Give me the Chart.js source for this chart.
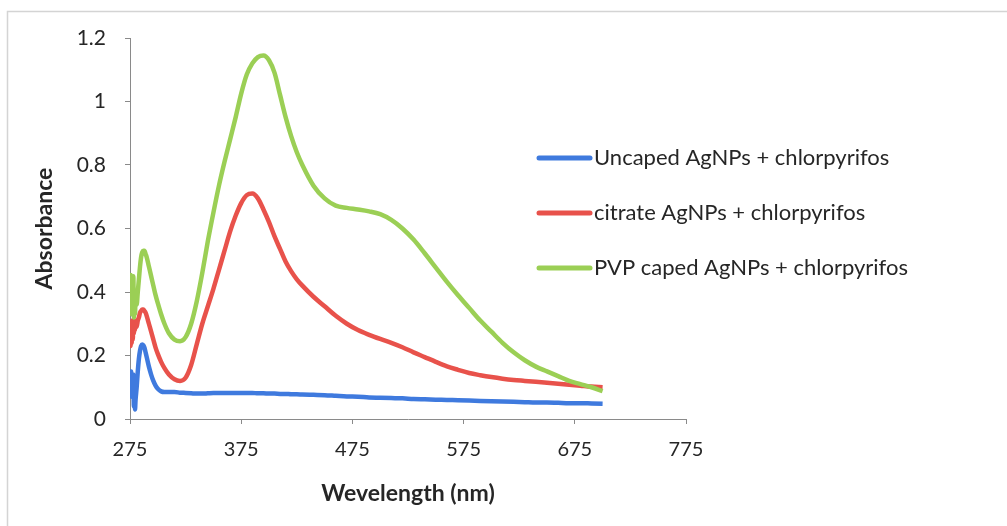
<!DOCTYPE html>
<html>
<head>
<meta charset="utf-8">
<script src="https://cdn.jsdelivr.net/npm/chart.js@4.4.1/dist/chart.umd.min.js"></script>
<style>
  html, body { margin: 0; padding: 0; background: #ffffff; }
  #wrap { width: 1007px; height: 526px; position: relative; }
</style>
</head>
<body>
<div id="wrap"><canvas id="c" width="1007" height="526"></canvas></div>
<script>
// ---- data ----
const seriesNames = [
  'Uncaped AgNPs + chlorpyrifos',
  'citrate AgNPs + chlorpyrifos',
  'PVP caped AgNPs + chlorpyrifos'
];
const wavelengths = [275, 275.5, 276, 276.5, 277, 277.5, 278, 278.5, 279, 279.5, 280, 281, 282, 283, 284, 285, 286, 287, 288, 289, 290, 292, 294, 296, 298, 300, 303, 306, 310, 315, 320, 325, 330, 335, 340, 345, 350, 355, 360, 365, 370, 375, 380, 385, 390, 395, 400, 405, 410, 415, 420, 425, 430, 440, 450, 460, 470, 480, 490, 500, 510, 520, 530, 540, 550, 560, 570, 580, 590, 600, 610, 620, 630, 640, 650, 660, 670, 680, 690, 700];
const uncaped = [0.14, 0.08, 0.15, 0.07, 0.13, 0.09, 0.14, 0.04, 0.05, 0.03, 0.06, 0.10, 0.15, 0.19, 0.215, 0.23, 0.235, 0.232, 0.225, 0.21, 0.195, 0.165, 0.14, 0.12, 0.105, 0.095, 0.087, 0.085, 0.085, 0.085, 0.083, 0.082, 0.081, 0.080, 0.080, 0.081, 0.082, 0.082, 0.082, 0.082, 0.082, 0.082, 0.082, 0.082, 0.081, 0.081, 0.080, 0.080, 0.079, 0.079, 0.078, 0.078, 0.077, 0.076, 0.075, 0.073, 0.071, 0.070, 0.068, 0.067, 0.066, 0.065, 0.063, 0.062, 0.061, 0.060, 0.059, 0.058, 0.057, 0.056, 0.055, 0.054, 0.053, 0.052, 0.052, 0.051, 0.050, 0.050, 0.049, 0.048];
const citrate = [0.31, 0.23, 0.30, 0.24, 0.31, 0.25, 0.30, 0.27, 0.31, 0.28, 0.30, 0.29, 0.31, 0.32, 0.335, 0.34, 0.345, 0.345, 0.34, 0.335, 0.325, 0.30, 0.275, 0.25, 0.225, 0.205, 0.18, 0.16, 0.14, 0.125, 0.12, 0.13, 0.17, 0.235, 0.30, 0.355, 0.41, 0.47, 0.53, 0.59, 0.64, 0.68, 0.705, 0.71, 0.695, 0.66, 0.62, 0.575, 0.535, 0.495, 0.465, 0.44, 0.42, 0.385, 0.355, 0.325, 0.30, 0.28, 0.265, 0.252, 0.24, 0.226, 0.21, 0.195, 0.18, 0.166, 0.155, 0.145, 0.138, 0.132, 0.127, 0.123, 0.12, 0.117, 0.114, 0.111, 0.108, 0.105, 0.102, 0.10];
const pvp = [0.46, 0.34, 0.44, 0.33, 0.42, 0.34, 0.45, 0.32, 0.40, 0.33, 0.38, 0.36, 0.40, 0.44, 0.48, 0.51, 0.525, 0.53, 0.53, 0.52, 0.51, 0.48, 0.45, 0.42, 0.39, 0.365, 0.33, 0.30, 0.27, 0.25, 0.245, 0.258, 0.30, 0.37, 0.46, 0.56, 0.65, 0.735, 0.81, 0.88, 0.95, 1.025, 1.085, 1.12, 1.14, 1.145, 1.13, 1.09, 1.02, 0.95, 0.89, 0.84, 0.80, 0.735, 0.695, 0.672, 0.665, 0.66, 0.654, 0.645, 0.627, 0.60, 0.565, 0.522, 0.477, 0.432, 0.39, 0.35, 0.31, 0.275, 0.24, 0.21, 0.185, 0.165, 0.15, 0.135, 0.12, 0.11, 0.10, 0.088];
const xTicks = [275, 375, 475, 575, 675, 775];
const yTicks = [0, 0.2, 0.4, 0.6, 0.8, 1, 1.2];
const seriesColors = ['#3f7ade', '#e8524b', '#9bcf55'];

const FONT = 'Lato, "Open Sans", "DejaVu Sans", sans-serif';

function pts(vals) { return wavelengths.map((w, i) => ({ x: w, y: vals[i] })); }
const allSeries = [uncaped, citrate, pvp];

const frame = {
  id: 'frame',
  beforeDraw(chart) {
    const ctx = chart.ctx;
    ctx.save();
    ctx.strokeStyle = '#d4d4d4';
    ctx.lineWidth = 1.5;
    ctx.beginPath();
    ctx.moveTo(7.5, 526);
    ctx.lineTo(7.5, 11.5);
    ctx.lineTo(1007, 11.5);
    ctx.stroke();
    ctx.restore();
  }
};

const legendPlugin = {
  id: 'customLegend',
  afterDraw(chart) {
    const ctx = chart.ctx;
    const rows = [158, 213, 268];
    ctx.save();
    chart.data.datasets.forEach((ds, i) => {
      const y = rows[i];
      ctx.strokeStyle = ds.borderColor;
      ctx.lineWidth = 5;
      ctx.lineCap = 'round';
      ctx.beginPath();
      ctx.moveTo(539, y);
      ctx.lineTo(590, y);
      ctx.stroke();
      ctx.fillStyle = '#262626';
      ctx.font = '22px ' + FONT;
      ctx.textBaseline = 'middle';
      ctx.textAlign = 'left';
      ctx.fillText(ds.label, 594, y);
    });
    ctx.restore();
  }
};

new Chart(document.getElementById('c'), {
  type: 'line',
  data: {
    datasets: allSeries.map((vals, i) => ({
      label: seriesNames[i],
      data: pts(vals),
      borderColor: seriesColors[i],
      backgroundColor: seriesColors[i],
      borderWidth: 4.5,
      pointRadius: 0,
      fill: false,
      cubicInterpolationMode: 'monotone',
      order: 2 - i
    }))
  },
  options: {
    responsive: false,
    animation: false,
    devicePixelRatio: 1,
    layout: { padding: { left: 0, top: 38, right: 321, bottom: 0 } },
    plugins: {
      legend: { display: false },
      tooltip: { enabled: false }
    },
    scales: {
      x: {
        type: 'linear',
        min: 275,
        max: 775,
        afterBuildTicks(s) { s.ticks = xTicks.map(v => ({ value: v })); },
        afterFit(s) { s.height = 107; },
        border: { color: '#8a8a8a', width: 1 },
        grid: { display: true, drawOnChartArea: false, drawTicks: true, tickLength: 5, color: '#8a8a8a' },
        ticks: { color: '#262626', font: { family: FONT, size: 20 }, padding: 14, maxRotation: 0, callback: v => String(v) },
        title: { display: true, text: 'Wevelength (nm)', color: '#262626', font: { family: FONT, size: 23, weight: 'bold' }, padding: { top: 0, bottom: 19 } }
      },
      y: {
        type: 'linear',
        min: 0,
        max: 1.2,
        afterBuildTicks(s) { s.ticks = yTicks.map(v => ({ value: v })); },
        afterFit(s) { s.width = 130; },
        border: { color: '#8a8a8a', width: 1 },
        grid: { display: true, drawOnChartArea: false, drawTicks: true, tickLength: 5, color: '#8a8a8a' },
        ticks: { color: '#262626', font: { family: FONT, size: 21 }, padding: 19, callback: v => String(v) },
        title: { display: true, text: 'Absorbance', color: '#262626', font: { family: FONT, size: 23, weight: 'bold' }, padding: { top: 31, bottom: 0 } }
      }
    }
  },
  plugins: [frame, legendPlugin]
});
</script>
</body>
</html>
